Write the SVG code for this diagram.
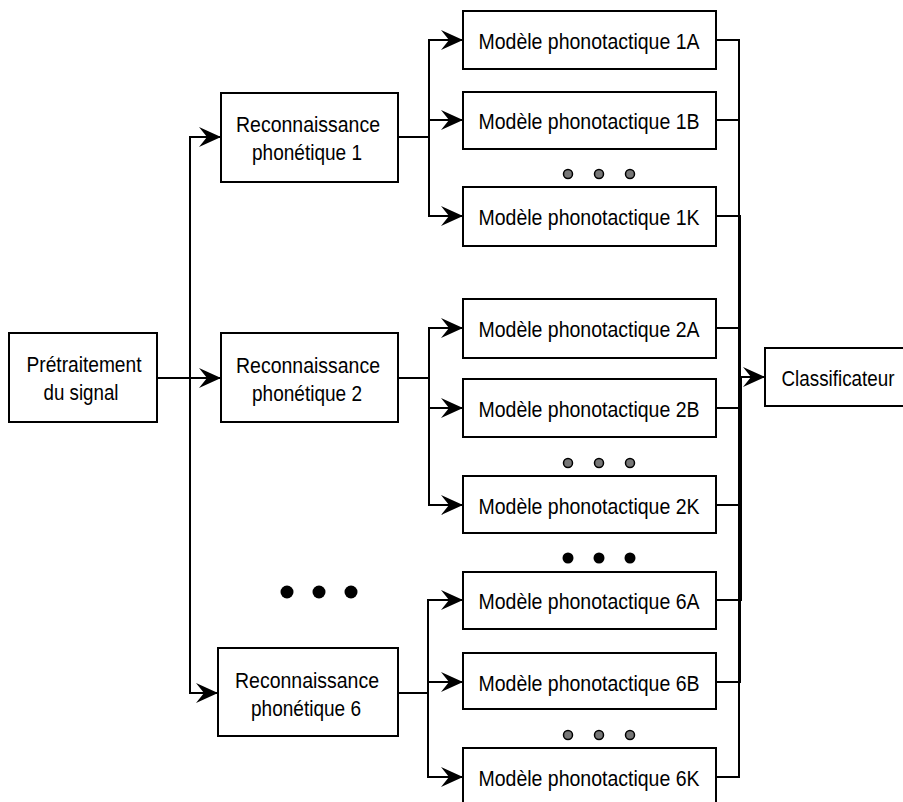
<svg xmlns="http://www.w3.org/2000/svg" width="903" height="802" viewBox="0 0 903 802">
  <style>
    .box { fill: #ffffff; stroke: #000000; stroke-width: 2; }
    .lbl { font-family: "Liberation Sans", Arial, sans-serif; font-size: 22px; fill: #000000; text-anchor: middle; }
    .wire { fill: none; stroke: #000000; stroke-width: 2; }
    .arr { fill: none; stroke: #000000; stroke-width: 2; marker-end: url(#head); }
    .dot-grey { fill: #777777; stroke: #000000; stroke-width: 1.5; }
    .dot-black { fill: #000000; }
  </style>
  <defs>
    <marker id="head" viewBox="-24 -12 26 24" markerWidth="26" markerHeight="24" refX="0" refY="0" markerUnits="userSpaceOnUse" orient="auto">
      <path d="M0,0 L-22,-10 L-14,0 L-22,10 Z" fill="#000000"/>
    </marker>
  </defs>

  <!-- connectors -->
  <g id="connectors">
    <!-- preprocessing to the three recognisers -->
    <path class="arr" d="M157,378 H190 V137 H221"/>
    <path class="arr" d="M157,378 H221"/>
    <path class="arr" d="M157,378 H190 V693 H218"/>

    <!-- recogniser 1 to its models -->
    <path class="arr" d="M398,137 H429 V40 H463"/>
    <path class="arr" d="M398,137 H429 V120 H463"/>
    <path class="arr" d="M398,137 H429 V216 H463"/>

    <!-- recogniser 2 to its models -->
    <path class="arr" d="M398,378 H429 V328 H463"/>
    <path class="arr" d="M398,378 H429 V408 H463"/>
    <path class="arr" d="M398,378 H429 V505 H463"/>

    <!-- recogniser 6 to its models -->
    <path class="arr" d="M398,693 H428 V600 H463"/>
    <path class="arr" d="M398,693 H428 V682 H463"/>
    <path class="arr" d="M398,693 H428 V777 H463"/>

    <!-- models to the classifier bus -->
    <path class="wire" d="M716,40 H739 V377"/>
    <path class="wire" d="M716,120 H739 V377"/>
    <path class="wire" d="M716,216 H740 V377"/>
    <path class="wire" d="M716,328 H740 V377"/>
    <path class="wire" d="M716,408 H740 V377"/>
    <path class="wire" d="M716,505 H740 V377"/>
    <path class="wire" d="M716,600 H741 V377"/>
    <path class="wire" d="M716,682 H740 V377"/>
    <path class="wire" d="M716,777 H739 V377"/>
    <path class="arr" d="M739,377 H765"/>
  </g>

  <!-- preprocessing -->
  <g id="pretraitement">
    <rect class="box" x="9" y="333" width="148" height="89"/>
    <text class="lbl" x="84" y="372" textLength="115" lengthAdjust="spacingAndGlyphs">Prétraitement</text>
    <text class="lbl" x="81" y="400" textLength="75" lengthAdjust="spacingAndGlyphs">du signal</text>
  </g>

  <!-- phonetic recognisers -->
  <g id="reco1">
    <rect class="box" x="221" y="93" width="177" height="89"/>
    <text class="lbl" x="308" y="132" textLength="144" lengthAdjust="spacingAndGlyphs">Reconnaissance</text>
    <text class="lbl" x="307" y="160" textLength="110" lengthAdjust="spacingAndGlyphs">phonétique 1</text>
  </g>
  <g id="reco2">
    <rect class="box" x="221" y="333" width="177" height="89"/>
    <text class="lbl" x="308" y="373" textLength="144" lengthAdjust="spacingAndGlyphs">Reconnaissance</text>
    <text class="lbl" x="307" y="401" textLength="110" lengthAdjust="spacingAndGlyphs">phonétique 2</text>
  </g>
  <g id="reco6">
    <rect class="box" x="218" y="648" width="180" height="88"/>
    <text class="lbl" x="307" y="688" textLength="144" lengthAdjust="spacingAndGlyphs">Reconnaissance</text>
    <text class="lbl" x="306" y="716" textLength="110" lengthAdjust="spacingAndGlyphs">phonétique 6</text>
  </g>

  <!-- phonotactic models -->
  <g id="model1A">
    <rect class="box" x="463" y="11" width="253" height="58"/>
    <text class="lbl" x="589" y="49" textLength="221" lengthAdjust="spacingAndGlyphs">Modèle phonotactique 1A</text>
  </g>
  <g id="model1B">
    <rect class="box" x="463" y="92" width="253" height="57"/>
    <text class="lbl" x="589" y="129" textLength="221" lengthAdjust="spacingAndGlyphs">Modèle phonotactique 1B</text>
  </g>
  <g id="model1K">
    <rect class="box" x="463" y="187" width="253" height="59"/>
    <text class="lbl" x="589" y="225" textLength="221" lengthAdjust="spacingAndGlyphs">Modèle phonotactique 1K</text>
  </g>
  <g id="model2A">
    <rect class="box" x="463" y="299" width="253" height="59"/>
    <text class="lbl" x="589" y="337" textLength="221" lengthAdjust="spacingAndGlyphs">Modèle phonotactique 2A</text>
  </g>
  <g id="model2B">
    <rect class="box" x="463" y="379" width="253" height="58"/>
    <text class="lbl" x="589" y="417" textLength="221" lengthAdjust="spacingAndGlyphs">Modèle phonotactique 2B</text>
  </g>
  <g id="model2K">
    <rect class="box" x="463" y="476" width="253" height="57"/>
    <text class="lbl" x="589" y="514" textLength="221" lengthAdjust="spacingAndGlyphs">Modèle phonotactique 2K</text>
  </g>
  <g id="model6A">
    <rect class="box" x="463" y="572" width="253" height="57"/>
    <text class="lbl" x="589" y="609" textLength="221" lengthAdjust="spacingAndGlyphs">Modèle phonotactique 6A</text>
  </g>
  <g id="model6B">
    <rect class="box" x="463" y="653" width="253" height="56"/>
    <text class="lbl" x="589" y="691" textLength="221" lengthAdjust="spacingAndGlyphs">Modèle phonotactique 6B</text>
  </g>
  <g id="model6K">
    <rect class="box" x="463" y="748" width="253" height="60"/>
    <text class="lbl" x="589" y="786" textLength="221" lengthAdjust="spacingAndGlyphs">Modèle phonotactique 6K</text>
  </g>

  <!-- classifier -->
  <g id="classificateur">
    <rect class="box" x="765" y="348" width="150" height="58"/>
    <text class="lbl" x="838" y="386" textLength="113" lengthAdjust="spacingAndGlyphs">Classificateur</text>
  </g>

  <!-- ellipsis dots -->
  <g id="ellipses">
    <circle class="dot-grey" cx="568" cy="174" r="4.5"/>
    <circle class="dot-grey" cx="599" cy="174" r="4.5"/>
    <circle class="dot-grey" cx="630" cy="174" r="4.5"/>

    <circle class="dot-grey" cx="568" cy="463" r="4.5"/>
    <circle class="dot-grey" cx="599" cy="463" r="4.5"/>
    <circle class="dot-grey" cx="630" cy="463" r="4.5"/>

    <circle class="dot-black" cx="568" cy="558" r="5.5"/>
    <circle class="dot-black" cx="599" cy="558" r="5.5"/>
    <circle class="dot-black" cx="630" cy="558" r="5.5"/>

    <circle class="dot-grey" cx="568" cy="735" r="4.5"/>
    <circle class="dot-grey" cx="599" cy="735" r="4.5"/>
    <circle class="dot-grey" cx="630" cy="735" r="4.5"/>

    <circle class="dot-black" cx="287" cy="592" r="6.5"/>
    <circle class="dot-black" cx="319" cy="592" r="6.5"/>
    <circle class="dot-black" cx="351" cy="592" r="6.5"/>
  </g>
</svg>
